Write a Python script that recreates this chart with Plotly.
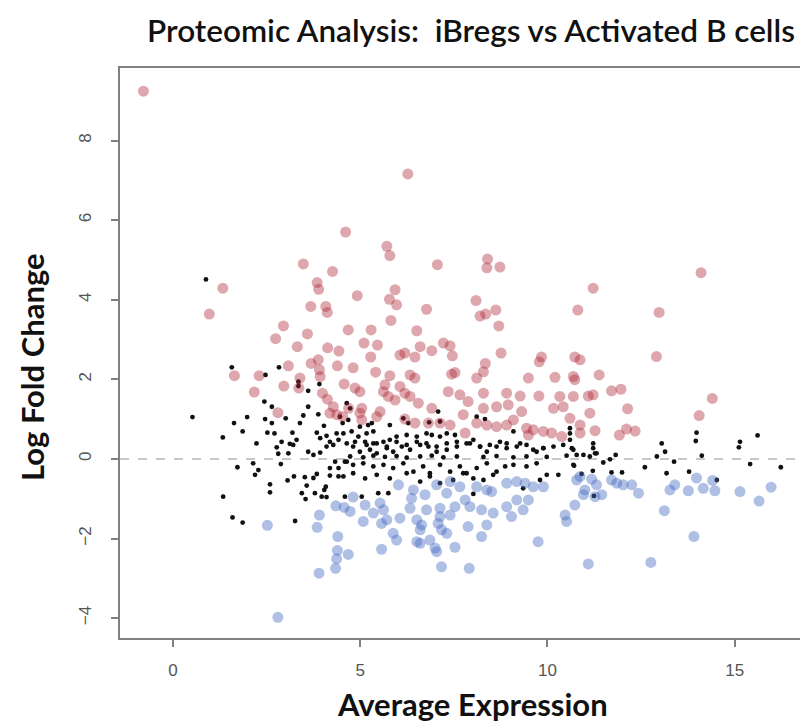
import plotly.graph_objects as go

# ---------------- data ----------------
up_x = [-0.79, 4.61, 3.48, 6.27, 5.71, 5.79, 7.06, 8.40, 8.38, 8.73,
        4.26, 3.85, 3.89, 1.33, 0.97, 3.68, 4.08, 4.12, 2.95, 3.59, 2.74, 4.68, 3.32, 4.13, 4.43,
        3.69, 3.88, 3.08, 4.39, 1.64, 2.30, 3.91, 3.93, 3.39, 3.36, 2.96, 2.17, 4.57, 3.99, 4.12,
        4.28, 4.69, 2.80, 4.19, 4.37,
        4.92, 5.93, 5.78, 5.97, 6.77, 8.09, 8.62, 8.20, 8.35, 8.70, 10.81, 5.82, 5.29, 6.51,
        5.10, 5.46, 6.60, 6.91, 7.22, 7.40, 6.06, 6.19, 6.46, 7.46, 5.28, 8.76, 9.84, 9.78,
        4.81, 8.34, 8.29, 5.41, 5.79, 6.33, 6.46, 7.44, 7.53, 8.11, 9.49, 10.20,
        4.86, 4.99, 5.66, 5.62, 6.06, 6.19, 6.33, 7.35, 7.66, 7.88, 8.29, 8.91, 9.27, 9.77,
        10.33, 10.69, 5.75, 5.93, 6.55, 5.04, 5.53, 4.53, 6.91, 8.29, 8.64, 8.95, 9.31, 10.16,
        10.42, 10.60, 7.75, 6.19, 6.46, 6.82, 7.13, 7.40, 7.80, 8.11, 8.38, 8.64, 8.91, 9.09,
        9.44, 9.62, 9.89, 10.11, 10.38, 9.49, 4.99, 5.04, 5.44,
        14.10, 11.22, 12.98, 10.73, 10.87, 12.91, 10.69, 10.73, 11.38, 11.71, 11.96, 11.09, 11.22,
        14.40, 12.14, 11.13, 14.05, 10.87, 10.87, 11.27, 11.92, 12.11, 12.34]
up_y = [9.24, 5.70, 4.90, 7.16, 5.34, 5.11, 4.88, 5.02, 4.80, 4.82,
        4.71, 4.43, 4.26, 4.29, 3.64, 3.83, 3.83, 3.68, 3.34, 3.14, 3.02, 3.24, 2.82, 2.79, 2.71,
        2.40, 2.49, 2.34, 2.34, 2.09, 2.09, 2.24, 2.07, 2.03, 1.78, 1.83, 1.68, 1.88, 1.65, 1.50,
        1.31, 1.27, 1.16, 1.15, 1.11,
        4.10, 4.25, 4.01, 3.87, 3.76, 3.98, 3.74, 3.59, 3.64, 3.34, 3.74, 3.48, 3.24, 3.22,
        2.91, 2.86, 2.82, 2.72, 2.91, 2.84, 2.61, 2.66, 2.56, 2.59, 2.56, 2.66, 2.56, 2.44,
        2.29, 2.40, 2.19, 2.18, 2.09, 2.11, 2.03, 2.13, 2.17, 2.03, 2.03, 2.05,
        1.78, 1.69, 1.86, 1.69, 1.82, 1.65, 1.57, 1.69, 1.61, 1.44, 1.65, 1.65, 1.58, 1.58,
        1.57, 1.57, 1.57, 1.48, 1.40, 1.27, 1.19, 1.06, 1.27, 1.27, 1.31, 1.36, 1.19, 1.27,
        1.31, 1.02, 1.11, 1.00, 0.90, 0.90, 0.90, 0.85, 0.65, 0.90, 0.85, 0.81, 0.85, 0.98,
        0.77, 0.73, 0.69, 0.65, 0.56, 0.60, 1.15, 0.98, 1.06,
        4.68, 4.29, 3.68, 2.56, 2.49, 2.57, 2.07, 1.99, 2.11, 1.71, 1.75, 1.58, 1.61,
        1.52, 1.26, 1.15, 1.09, 0.85, 0.65, 0.71, 0.60, 0.75, 0.70]

down_x = [2.52, 3.91, 3.85, 4.35, 4.57, 4.73, 4.40, 4.39, 4.37, 4.34, 4.68, 3.90, 2.80,
          6.02, 6.42, 6.73, 7.04, 7.40, 7.66, 7.31, 8.11, 8.38, 8.51, 8.91, 9.18, 9.40, 9.62,
          9.89, 4.81, 5.13, 5.53, 5.62, 5.35, 6.37, 6.33, 6.77, 7.13, 7.13, 7.40, 7.53, 7.80,
          7.93, 8.24, 8.55, 8.91, 9.04, 9.18, 9.35, 9.49, 5.08, 5.57, 5.71, 6.06, 6.51, 6.64,
          6.60, 7.08, 7.17, 7.31, 7.88, 8.38, 8.24, 5.88, 5.97, 6.51, 6.60, 6.86, 7.00, 7.04,
          7.53, 5.57, 9.75, 7.17, 7.91, 10.47, 10.51, 10.73, 10.78,
          10.87, 11.18, 11.31, 11.00, 10.96, 11.27, 11.45, 11.71, 11.85, 12.02, 12.25, 12.43,
          13.12, 13.27, 13.40, 13.76, 13.98, 14.16, 14.41, 14.47, 15.14, 15.65, 15.97, 13.91,
          11.09, 12.76]
down_y = [-1.67, -1.41, -1.72, -1.18, -1.22, -1.32, -1.95, -2.30, -2.51, -2.75, -2.40, -2.87, -3.98,
          -0.65, -0.78, -0.90, -0.65, -0.57, -0.70, -0.86, -0.70, -0.78, -0.82, -0.61, -0.57, -0.61, -0.70,
          -0.70, -0.96, -1.16, -1.11, -1.28, -1.36, -0.99, -1.24, -1.28, -1.24, -1.45, -1.41, -1.20, -1.03,
          -1.20, -1.28, -1.36, -1.20, -1.45, -1.03, -1.28, -1.03, -1.57, -1.62, -1.53, -1.49, -1.53, -1.66,
          -1.78, -1.62, -1.78, -1.87, -1.70, -1.66, -1.95, -1.87, -2.04, -2.08, -2.12, -2.04, -2.24, -2.33,
          -2.22, -2.27, -2.08, -2.71, -2.75, -1.41, -1.57, -1.16, -0.53,
          -0.44, -0.51, -0.65, -0.78, -0.90, -0.95, -0.90, -0.53, -0.61, -0.65, -0.65, -0.86,
          -1.30, -0.78, -0.65, -0.80, -0.48, -0.74, -0.54, -0.80, -0.82, -1.06, -0.71, -1.95,
          -2.64, -2.60]

ns_x = [0.88, 1.57, 2.83, 2.47, 3.35, 3.35, 3.61, 3.91, 2.44, 2.64, 3.61, 0.52, 1.98, 1.63, 2.46,
        2.64, 3.01, 3.48, 3.88, 3.39, 4.03, 4.46, 4.53, 4.68, 1.86, 1.33, 2.52, 2.71, 3.19, 3.84,
        3.93, 4.10, 4.19, 4.37, 4.42, 2.90, 3.12, 3.30, 2.23, 2.77, 3.61, 3.75, 3.93, 2.81, 3.08,
        4.28, 4.10, 3.21, 1.72, 2.14, 2.28, 2.19, 2.88, 3.06, 3.23, 3.52, 3.75, 3.84, 4.19, 4.33,
        4.42, 4.64, 4.19, 4.42, 2.59, 2.59, 3.57, 3.44, 3.54, 3.79, 3.97, 4.10, 4.08, 4.04, 4.59,
        1.34, 1.59, 1.86, 3.26,
        4.64, 4.73, 4.99, 5.21, 5.31, 5.79, 6.15, 6.28, 6.84, 7.08, 7.13, 8.11, 8.33, 10.60, 10.60,
        9.09, 4.55, 4.77, 4.95, 5.17, 5.35, 5.13, 5.35, 5.62, 5.79, 5.97, 6.24, 6.51, 6.77, 6.91,
        7.13, 7.31, 7.53,
        4.81, 4.99, 5.26, 5.44, 5.71, 5.88, 6.11, 6.33, 6.60, 6.82, 7.04, 7.31, 7.58, 7.84,
        8.02, 8.20, 8.38, 8.64, 8.91, 9.18, 9.44, 9.71, 9.89, 10.16, 10.42, 10.69,
        4.73, 5.08, 5.35, 5.66, 5.97, 6.24, 6.60, 6.91, 7.22, 7.58, 8.29, 8.64, 9.09, 9.44, 9.98, 10.51,
        4.64, 4.86, 5.17, 5.44, 5.71, 5.97, 6.24, 6.51, 6.77, 7.04, 7.31, 7.58, 7.93, 8.20, 8.46,
        8.73, 8.91, 9.27, 9.62, 9.89,
        4.59, 4.81, 5.08, 5.35, 5.62, 5.88, 6.15, 6.42, 6.68, 6.86, 7.13, 7.40, 7.66, 7.84, 8.11,
        8.38, 8.64, 8.87, 9.09, 9.44, 9.71, 9.98, 10.29, 10.69,
        4.55, 4.81, 5.13, 5.44, 5.79, 6.24, 6.60, 6.86, 7.13, 7.48, 7.75, 8.02, 8.29, 8.55, 9.80, 9.35,
        5.04, 5.48, 5.75, 8.02,
        11.22, 11.27, 11.22, 10.65, 10.78, 10.96, 11.13, 11.31, 11.49, 11.67, 11.82, 10.71, 10.91,
        11.21, 11.71, 11.99, 11.24, 13.05, 13.14, 12.92, 13.38, 12.60, 13.18, 13.96, 14.12, 13.78,
        14.52, 15.14, 15.11, 15.41, 16.23, 10.60, 13.98, 15.61]
ns_y = [4.51, 2.30, 2.30, 2.11, 1.94, 1.83, 1.71, 1.88, 1.44, 1.31, 1.31, 1.05, 1.05, 0.90, 1.00,
        0.90, 1.02, 1.09, 1.12, 0.90, 0.83, 1.06, 0.90, 0.98, 0.69, 0.54, 0.66, 0.64, 0.66, 0.66,
        0.52, 0.58, 0.43, 0.64, 0.48, 0.43, 0.38, 0.48, 0.39, 0.29, 0.18, 0.10, 0.16, 0.13, 0.14,
        0.35, 0.31, 0.35, -0.21, -0.11, -0.28, -0.40, -0.13, -0.54, -0.44, -0.46, -0.48, -0.38, -0.23, -0.07,
        -0.23, -0.07, -0.42, -0.44, -0.64, -0.84, -0.67, -0.86, -1.01, -0.86, -0.95, -0.96, -0.70, -0.78, -0.95,
        -0.95, -1.47, -1.60, -1.56,
        1.40, 1.27, 0.81, 0.85, 0.90, 0.85, 1.02, 0.90, 0.92, 1.19, 0.94, 1.06, 1.00, 0.77, 0.64,
        0.69, 0.64, 0.69, 0.56, 0.64, 0.69, 0.43, 0.39, 0.43, 0.48, 0.56, 0.60, 0.56, 0.64, 0.60,
        0.56, 0.64, 0.60,
        0.31, 0.18, 0.23, 0.14, 0.27, 0.18, 0.31, 0.23, 0.35, 0.31, 0.18, 0.23, 0.31, 0.39,
        0.48, 0.31, 0.18, 0.31, 0.39, 0.31, 0.35, 0.18, 0.27, 0.31, 0.35, 0.23,
        0.06, 0.04, 0.08, 0.05, 0.07, 0.03, 0.06, 0.08, 0.04, 0.06, 0.05, 0.07, 0.04, 0.06, 0.05, 0.08,
        0.39, 0.43, 0.35, 0.39, 0.31, 0.43, 0.35, 0.43, 0.39, 0.31, 0.39, 0.43, 0.39, 0.31, 0.35,
        0.43, 0.27, 0.39, 0.23, 0.27,
        -0.07, -0.15, -0.11, -0.19, -0.15, -0.23, -0.11, -0.32, -0.19, -0.36, -0.15, -0.32, -0.19, -0.36, -0.23,
        -0.11, -0.32, -0.19, -0.15, -0.19, -0.11, -0.40, -0.40, -0.15,
        -0.44, -0.36, -0.49, -0.40, -0.49, -0.36, -0.57, -0.44, -0.61, -0.53, -0.36, -0.49, -0.53, -0.40, -0.53, -0.74,
        -0.95, -0.86, -0.86, -0.88,
        0.39, 0.14, 0.27, 0.27, 0.10, 0.10, 0.06, 0.14, -0.09, -0.01, 0.10, -0.17, -0.38,
        -0.30, -0.34, -0.34, -0.93, 0.39, 0.18, 0.06, -0.07, -0.21, -0.36, 0.45, 0.08, -0.32,
        -0.53, 0.43, 0.29, -0.13, -0.21, 0.48, 0.66, 0.59]

x_ticks = [0, 5, 10, 15]
y_ticks = [-4, -2, 0, 2, 4, 6, 8]

title_text = "Proteomic Analysis:\u00a0 iBregs vs Activated B cells"
x_title = "Average Expression"
y_title = "Log Fold Change"

# ---------------- figure ----------------
fig = go.Figure()
fig.add_trace(go.Scatter(x=ns_x, y=ns_y, mode="markers", name="not significant",
                         marker=dict(size=4.8, color="#111111", line=dict(width=0))))
fig.add_trace(go.Scatter(x=up_x, y=up_y, mode="markers", name="up",
                         marker=dict(size=11, color="rgb(172,36,50)", opacity=0.4, line=dict(width=0))))
fig.add_trace(go.Scatter(x=down_x, y=down_y, mode="markers", name="down",
                         marker=dict(size=11, color="rgb(66,106,192)", opacity=0.42, line=dict(width=0))))

fig.add_hline(y=0, line=dict(color="#b5b5b5", width=1.5, dash="dash"), layer="below")

W, H = 800, 722
L, T, B = 120, 68, 84
plot_w = W - L
plot_h = H - T - B

fig.update_layout(
    width=W, height=H,
    margin=dict(l=L, r=0, t=T, b=B, autoexpand=False),
    paper_bgcolor="white", plot_bgcolor="white",
    showlegend=False,
    title=dict(text=title_text, x=(471 - L) / plot_w, xref="paper", xanchor="center",
               y=1 - 31 / H, yref="container", yanchor="middle",
               font=dict(family="Lato", size=31.5, color="#111111", weight=600)),
    annotations=[
        dict(text=x_title, xref="paper", yref="paper", x=(472 - L) / plot_w,
             y=-(704 - (T + plot_h)) / plot_h, xanchor="center", yanchor="middle",
             showarrow=False, font=dict(family="Lato", size=31, color="#111111", weight="bold")),
        dict(text=y_title, xref="paper", yref="paper", x=-(L - 32) / plot_w,
             y=1 - (367 - T) / plot_h, xanchor="center", yanchor="middle", textangle=-90,
             showarrow=False, font=dict(family="Lato", size=31, color="#111111", weight="bold")),
    ],
)

fig.update_xaxes(range=[-1.415, -1.415 + plot_w / 37.45], tickvals=x_ticks,
                 showgrid=False, zeroline=False, showline=True, mirror=True,
                 linecolor="#808080", linewidth=2, ticks="outside", ticklen=7, tickwidth=2,
                 tickcolor="#808080", ticklabelstandoff=9,
                 tickfont=dict(family="Liberation Sans", size=17, color="#555555"))
fig.update_yaxes(range=[-4.50, -4.50 + plot_h / 39.8], tickvals=y_ticks,
                 showgrid=False, zeroline=False, showline=True, mirror=False,
                 linecolor="#808080", linewidth=2, ticks="outside", ticklen=7, tickwidth=2,
                 tickcolor="#808080", tickangle=-90, ticklabelstandoff=13,
                 tickfont=dict(family="Liberation Sans", size=17, color="#555555"))

fig.write_html("out.html")
